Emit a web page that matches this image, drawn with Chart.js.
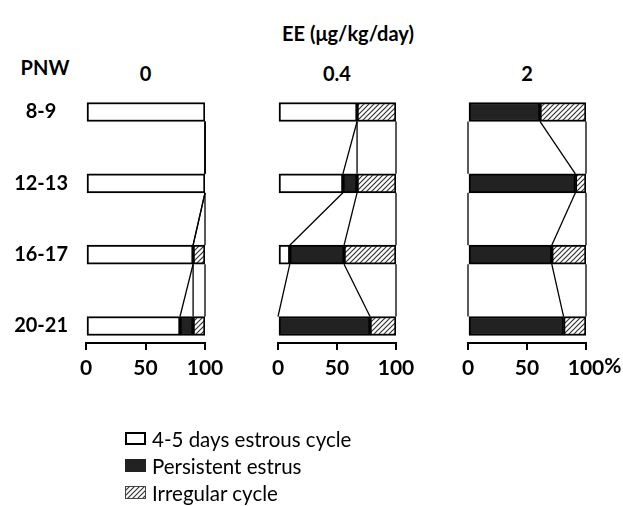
<!DOCTYPE html>
<html>
<head>
<meta charset="utf-8">
<script src="https://cdn.jsdelivr.net/npm/chart.js@4.4.1/dist/chart.umd.min.js"></script>
<style>
    body { margin: 0; background: #fff; width: 623px; height: 506px; position: relative; overflow: hidden; font-family: Lato, sans-serif; color: #000; }
    .label { position: absolute; font-weight: bold; white-space: nowrap; transform: translate(-50%, -50%); }
    canvas.panel { position: absolute; }
    #legend { position: absolute; left: 125px; top: 425px; }
    .leg-row { height: 27px; display: flex; align-items: center; font-size: 20.5px; }
    .leg-row canvas { margin-right: 6px; }
</style>
</head>
<body>
<div class="label" style="left:348px;top:33px;font-size:20px">EE (μg/kg/day)</div>
<div class="label" style="left:45px;top:67px;font-size:20px">PNW</div>
<canvas id="panel0" class="panel" width="230" height="293" style="left:0;top:90px"></canvas>
<canvas id="panel1" class="panel" width="168" height="293" style="left:253px;top:90px"></canvas>
<canvas id="panel2" class="panel" width="180" height="293" style="left:443px;top:90px"></canvas>
<div id="legend"></div>

<script>
// Categories (postnatal week) and doses
const weeks = ['8-9', '12-13', '16-17', '20-21'];
const doses = ['0', '0.4', '2'];
const series = ['4-5 days estrous cycle', 'Persistent estrus', 'Irregular cycle'];
const xTicks = [0, 50, 100];

// Percent of animals per week, EE 0
const regular0 = [100, 100, 90, 79];
const persistent0 = [0, 0, 0, 11];
const irregular0 = [0, 0, 10, 10];

// EE 0.4
const regular04 = [67, 55, 10, 0];
const persistent04 = [0, 12, 46, 78];
const irregular04 = [33, 33, 44, 22];

// EE 2
const regular2 = [0, 0, 0, 0];
const persistent2 = [61, 91, 71, 81];
const irregular2 = [39, 9, 29, 19];

const BAR_H = 19;
const FONT = 'Lato';
const BLACK_FILL = '#222';

/**
 * Diagonal hatch fill ("////")
 */
function makeHatch(ctx) {
    const c = document.createElement('canvas');
    c.width = 5; c.height = 5;
    const g = c.getContext('2d');
    g.fillStyle = '#fff';
    g.fillRect(0, 0, 5, 5);
    g.strokeStyle = '#333';
    g.lineWidth = 1.2;
    g.beginPath();
    g.moveTo(-1, 6); g.lineTo(6, -1);
    g.moveTo(-1, 1); g.lineTo(1, -1);
    g.moveTo(4, 6); g.lineTo(6, 4);
    g.stroke();
    return ctx.createPattern(c, 'repeat');
}

/**
 * Lines joining segment boundaries of consecutive bars
 */
const linkPlugin = {
    id: 'links',
    afterDatasetsDraw(chart, args, opts) {
        const { ctx, scales: { x, y } } = chart;
        const bounds = opts.regular.map((w, i) => [w, w + opts.persistent[i], 100]);
        ctx.save();
        ctx.strokeStyle = '#000';
        ctx.lineWidth = 1.3;
        for (let i = 0; i < bounds.length - 1; i++) {
            const y0 = y.getPixelForValue(i) + BAR_H / 2;
            const y1 = y.getPixelForValue(i + 1) - BAR_H / 2;
            bounds[i].forEach((b, k) => {
                ctx.beginPath();
                ctx.moveTo(x.getPixelForValue(b), y0);
                ctx.lineTo(x.getPixelForValue(bounds[i + 1][k]), y1);
                ctx.stroke();
            });
        }
        ctx.restore();
    }
};

/**
 * Percent sign after the last tick of the right panel
 */
const percentPlugin = {
    id: 'percent',
    afterDraw(chart, args, opts) {
        if (!opts.show) return;
        const { ctx, scales: { x } } = chart;
        ctx.save();
        ctx.font = `bold 21px ${FONT}`;
        const w = ctx.measureText('100').width;
        ctx.fillStyle = '#000';
        ctx.textAlign = 'left';
        ctx.textBaseline = 'top';
        ctx.fillText('%', x.getPixelForValue(100) + w / 2, x.top + 7 + 6);
        ctx.restore();
    }
};

function buildPanel(id, regular, persistent, irregular, opts) {
    const canvas = document.getElementById(id);
    const ctx = canvas.getContext('2d');
    const hatch = makeHatch(ctx);
    const common = { borderColor: '#000', borderWidth: 2, borderSkipped: false, barThickness: BAR_H };

    return new Chart(ctx, {
        type: 'bar',
        data: {
            labels: weeks.map((w, i) => i),
            datasets: [
                { label: series[0], data: regular, backgroundColor: '#fff', ...common },
                { label: series[1], data: persistent, backgroundColor: BLACK_FILL, ...common },
                { label: series[2], data: irregular, backgroundColor: hatch, ...common }
            ]
        },
        options: {
            indexAxis: 'y',
            responsive: false,
            animation: false,
            layout: { padding: { top: 5, bottom: 0, left: opts.padLeft, right: opts.padRight } },
            plugins: {
                legend: { display: false },
                tooltip: { enabled: false },
                links: { regular, persistent },
                percent: { show: !!opts.percent }
            },
            scales: {
                x: {
                    type: 'linear',
                    stacked: true,
                    bounds: 'data',
                    min: 0,
                    max: 100,
                    afterBuildTicks(s) { s.ticks = xTicks.map(v => ({ value: v })); },
                    afterFit(s) { s.height = 40; },
                    ticks: { color: '#000', padding: 6, maxRotation: 0, autoSkip: false, font: { family: FONT, size: 21, weight: 'bold' } },
                    grid: { drawOnChartArea: false, drawTicks: true, tickLength: 7, color: '#000', lineWidth: 2 },
                    border: { display: true, color: '#000', width: 2 }
                },
                y: {
                    type: 'linear',
                    stacked: true,
                    reverse: true,
                    offset: false,
                    bounds: 'data',
                    min: -0.238,
                    max: 3.238,
                    display: !!opts.showWeeks,
                    afterBuildTicks(s) { s.ticks = weeks.map((w, i) => ({ value: i })); },
                    afterFit(s) {
                        // labels sit well inside the plot, no overhang padding needed
                        s.paddingTop = 0;
                        s.paddingBottom = 0;
                        if (opts.showWeeks) s.width = 86;
                    },
                    ticks: {
                        autoSkip: false,
                        crossAlign: 'center',
                        padding: 18,
                        color: '#000',
                        font: { family: FONT, size: 20, weight: 'bold' },
                        callback: v => weeks[v] ?? ''
                    },
                    grid: { display: false, drawTicks: false, offset: false },
                    border: { display: false }
                }
            }
        },
        plugins: [linkPlugin, percentPlugin]
    });
}

/**
 * Dose title centred over each panel's plot area
 */
function addDoseTitle(chart, text) {
    const a = chart.chartArea;
    const left = chart.canvas.offsetLeft + (a.left + a.right) / 2;
    const el = document.createElement('div');
    el.className = 'label';
    el.style.cssText = `left:${left}px;top:73px;font-size:20px`;
    el.textContent = text;
    document.body.appendChild(el);
}

/**
 * Vertical legend with pattern swatches
 */
function buildLegend() {
    const box = document.getElementById('legend');
    series.forEach((name, i) => {
        const row = document.createElement('div');
        row.className = 'leg-row';
        const sw = document.createElement('canvas');
        sw.width = 21; sw.height = 13;
        const g = sw.getContext('2d');
        if (i === 0) {
            g.fillStyle = '#fff'; g.fillRect(0, 0, 21, 13);
            g.strokeStyle = '#000'; g.lineWidth = 2; g.strokeRect(1, 1, 19, 11);
        } else if (i === 1) {
            g.fillStyle = BLACK_FILL; g.fillRect(0, 0, 21, 13);
        } else {
            g.fillStyle = makeHatch(g); g.fillRect(0, 0, 21, 13);
            g.strokeStyle = '#444'; g.lineWidth = 1; g.strokeRect(0.5, 0.5, 20, 12);
        }
        const span = document.createElement('span');
        span.textContent = name;
        row.appendChild(sw);
        row.appendChild(span);
        box.appendChild(row);
    });
}

const charts = [
    buildPanel('panel0', regular0, persistent0, irregular0, { padLeft: 0, padRight: 25, showWeeks: true }),
    buildPanel('panel1', regular04, persistent04, irregular04, { padLeft: 25, padRight: 25 }),
    buildPanel('panel2', regular2, persistent2, irregular2, { padLeft: 25, padRight: 37, percent: true })
];
charts.forEach((c, i) => addDoseTitle(c, doses[i]));
buildLegend();
</script>
</body>
</html>
